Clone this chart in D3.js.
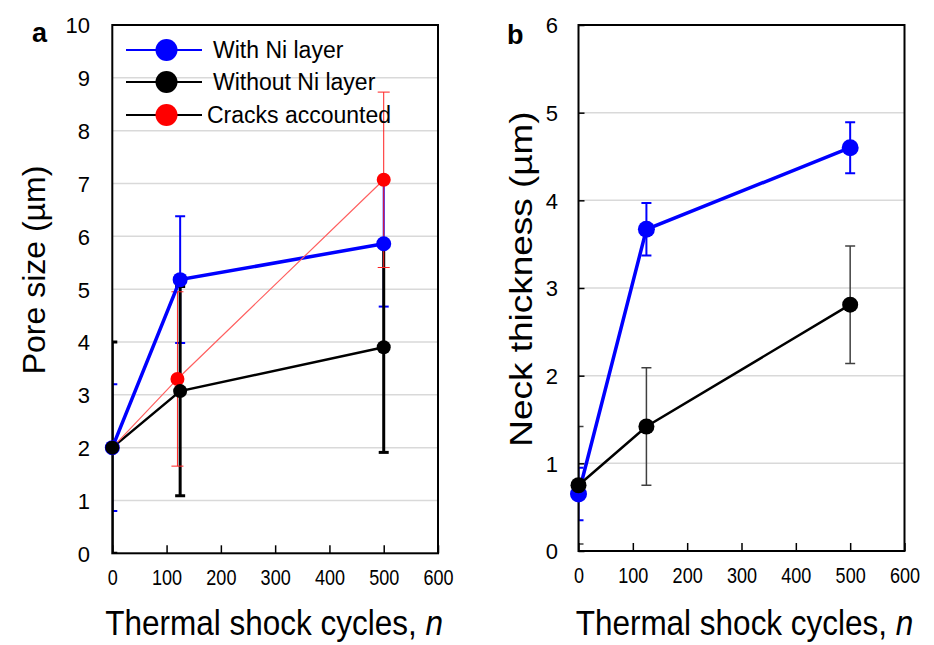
<!DOCTYPE html>
<html><head><meta charset="utf-8">
<script src="https://cdn.jsdelivr.net/npm/d3@7"></script>
<style>
html,body{margin:0;padding:0;background:#fff;}
text{font-family:"Liberation Sans",Arial,sans-serif;fill:#000;}
</style></head>
<body>
<svg id="chart" width="934" height="645"></svg>
<script>
// ---- data ----
const xTicks = [0, 100, 200, 300, 400, 500, 600];
const poreTicks = [0, 1, 2, 3, 4, 5, 6, 7, 8, 9, 10];
const neckTicks = [0, 1, 2, 3, 4, 5, 6];

const cycles = [0, 125, 500];
const cyclesCracks = [0, 120, 500];

const poreWithNi = [2.0, 5.18, 5.86];
const poreWithNiErr = [1.2, 1.2, 1.19];
const poreWithoutNi = [2.0, 3.07, 3.9];
const poreWithoutNiErr = [2.0, 1.98, 1.99];
const poreCracks = [2.0, 3.3, 7.07];
const poreCracksErr = [0, 1.65, 1.66];

const neckWithNi = [0.65, 3.67, 4.6];
const neckWithNiErr = [0.3, 0.3, 0.29];
const neckWithoutNi = [0.75, 1.42, 2.81];
const neckWithoutNiErr = [0.67, 0.67, 0.67];

const legendLabels = ["With Ni layer", "Without Ni layer", "Cracks accounted"];

// ---- drawing ----
const svg = d3.select("#chart");
const FONT = '"Liberation Sans",Arial,sans-serif';

function panel(cfg) {
  const g = svg.append("g");
  const x = d3.scaleLinear().domain([0, 600]).range([cfg.x0, cfg.x1]);
  const y = d3.scaleLinear().domain([0, cfg.ymax]).range([cfg.y0, cfg.y1]);

  // gridlines
  g.append("g").selectAll("line").data(cfg.yTicks.filter(v => v > 0 && v < cfg.ymax)).join("line")
    .attr("x1", cfg.x0).attr("x2", cfg.x1)
    .attr("y1", d => y(d)).attr("y2", d => y(d))
    .attr("stroke", "#d9d9d9").attr("stroke-width", 1.5);

  // clip for error bars
  const cid = "clip" + cfg.id;
  svg.append("defs").append("clipPath").attr("id", cid).append("rect")
    .attr("x", cfg.x0).attr("y", cfg.y1).attr("width", cfg.x1 - cfg.x0).attr("height", cfg.y0 - cfg.y1);

  const eb = g.append("g").attr("clip-path", `url(#${cid})`);
  cfg.series.forEach(s => {
    const d = s.xs.map((xv, i) => ({x: xv, y: s.ys[i], e: s.err[i]})).filter(p => p.e > 0);
    const eg = eb.append("g").attr("stroke", s.errColor).attr("stroke-width", s.errWidth);
    eg.selectAll(".v").data(d).join("line")
      .attr("x1", p => x(p.x)).attr("x2", p => x(p.x))
      .attr("y1", p => y(p.y - p.e)).attr("y2", p => y(p.y + p.e));
    eg.selectAll(".t").data(d.flatMap(p => [p.y - p.e, p.y + p.e].map(v => ({x: p.x, v})))).join("line")
      .attr("x1", p => x(p.x) - s.cap).attr("x2", p => x(p.x) + s.cap)
      .attr("y1", p => y(p.v)).attr("y2", p => y(p.v));
  });

  // frame
  g.append("rect").attr("x", cfg.x0).attr("y", cfg.y1)
    .attr("width", cfg.x1 - cfg.x0).attr("height", cfg.y0 - cfg.y1)
    .attr("fill", "none").attr("stroke", "#000").attr("stroke-width", 2);

  // bottom axis (inward ticks)
  const xa = g.append("g").attr("transform", `translate(0,${cfg.y0})`)
    .call(d3.axisBottom(x).tickValues(xTicks).tickFormat(d3.format("d")).tickSizeInner(-8).tickSizeOuter(0).tickPadding(16));
  xa.select(".domain").remove();
  xa.selectAll(".tick line").attr("stroke", "#000").attr("stroke-width", 1.5);
  xa.selectAll(".tick text").attr("font-size", 22).attr("transform", "scale(0.82,1)")
    .attr("y", 32).attr("dy", null).style("font-family", FONT);

  // left axis
  const ya = g.append("g").attr("transform", `translate(${cfg.x0},0)`)
    .call(d3.axisLeft(y).tickValues(cfg.yTicks).tickFormat(d3.format("d")).tickSizeInner(cfg.yTickIn ? -6 : 0).tickSizeOuter(0).tickPadding(0));
  ya.select(".domain").remove();
  ya.selectAll(".tick line").attr("stroke", "#000").attr("stroke-width", 1.5);
  ya.selectAll(".tick text").attr("font-size", 22).attr("x", cfg.yLabelX - cfg.x0).attr("dy", "0.36em")
    .attr("text-anchor", "end").style("font-family", FONT);

  // lines
  cfg.series.forEach(s => {
    const d = s.xs.map((xv, i) => [xv, s.ys[i]]);
    g.append("path").datum(d)
      .attr("d", d3.line().x(p => x(p[0])).y(p => y(p[1])))
      .attr("fill", "none").attr("stroke", s.lineColor).attr("stroke-width", s.lineWidth);
  });
  // markers
  cfg.markerOrder.forEach(k => {
    const s = cfg.series[k];
    g.append("g").selectAll("circle").data(s.xs.map((xv, i) => [xv, s.ys[i]])).join("circle")
      .attr("cx", p => x(p[0])).attr("cy", p => y(p[1])).attr("r", s.r).attr("fill", s.color);
  });

  // titles
  g.append("text").attr("x", cfg.letterX).attr("y", cfg.letterY).attr("font-size", 27)
    .attr("font-weight", "bold").text(cfg.letter);
  g.append("text")
    .attr("transform", `translate(${cfg.yTitleX},${cfg.yTitleY}) rotate(-90) scale(${cfg.yTitleSX},${cfg.yTitleSY})`)
    .attr("text-anchor", "middle").attr("font-size", cfg.yTitleSize)
    .text(cfg.yTitle);
  const xt = g.append("text")
    .attr("transform", `translate(${(cfg.x0 + cfg.x1) / 2 + cfg.xTitleShift},635) scale(0.9,1)`)
    .attr("text-anchor", "middle").attr("font-size", 35);
  xt.append("tspan").text("Thermal shock cycles, ");
  xt.append("tspan").attr("font-style", "italic").text("n");
  return {g, x, y};
}

// Panel a
const pa = panel({
  id: "a", x0: 112.3, x1: 438, y0: 553.3, y1: 25, ymax: 10, yTicks: poreTicks, yTickIn: false,
  yLabelX: 90, letter: "a", letterX: 32, letterY: 42,
  yTitle: "Pore size (µm)", yTitleX: 45, yTitleY: 270, yTitleSize: 32, yTitleSX: 1.0, yTitleSY: 1.0,
  xTitleShift: -1,
  markerOrder: [2, 0, 1],
  series: [
    {xs: cycles, ys: poreWithNi, err: poreWithNiErr, color: "#0000ff", lineColor: "#0000ff", lineWidth: 3.5,
     errColor: "#0000ff", errWidth: 2, cap: 5, r: 7.5},
    {xs: cycles, ys: poreWithoutNi, err: poreWithoutNiErr, color: "#000", lineColor: "#000", lineWidth: 2.5,
     errColor: "#000", errWidth: 3, cap: 5, r: 7},
    {xs: cyclesCracks, ys: poreCracks, err: poreCracksErr, color: "#ff0000", lineColor: "#ff6060", lineWidth: 1.2,
     errColor: "#ff2020", errWidth: 1, cap: 6, r: 7}
  ]
});

// Panel b
const pb = panel({
  id: "b", x0: 578.5, x1: 904.5, y0: 551, y1: 25, ymax: 6, yTicks: neckTicks, yTickIn: true,
  yLabelX: 558, letter: "b", letterX: 507, letterY: 44,
  yTitle: "Neck thickness (µm)", yTitleX: 532, yTitleY: 279, yTitleSize: 33, yTitleSX: 1.12, yTitleSY: 0.95,
  xTitleShift: 3,
  markerOrder: [0, 1],
  series: [
    {xs: cycles, ys: neckWithNi, err: neckWithNiErr, color: "#0000ff", lineColor: "#0000ff", lineWidth: 3.5,
     errColor: "#0000ff", errWidth: 2, cap: 5, r: 8.5},
    {xs: cycles, ys: neckWithoutNi, err: neckWithoutNiErr, color: "#000", lineColor: "#000", lineWidth: 2.5,
     errColor: "#404040", errWidth: 1.5, cap: 5, r: 8}
  ]
});

// Legend (panel a)
const legendColors = ["#0000ff", "#000", "#ff0000"];
const legendLine = ["#0000ff", "#000", "#000"];
const legendY = [50, 82, 115];
const legendTextX = [213, 213, 207];
const lg = svg.append("g");
legendLabels.forEach((lab, i) => {
  lg.append("line").attr("x1", 126).attr("x2", 202).attr("y1", legendY[i]).attr("y2", legendY[i])
    .attr("stroke", legendLine[i]).attr("stroke-width", 2);
  lg.append("circle").attr("cx", 166.5).attr("cy", legendY[i]).attr("r", 11).attr("fill", legendColors[i]);
  lg.append("text").attr("x", legendTextX[i]).attr("y", legendY[i] + 7.5).attr("font-size", 23).text(lab);
});
</script>
</body></html>
